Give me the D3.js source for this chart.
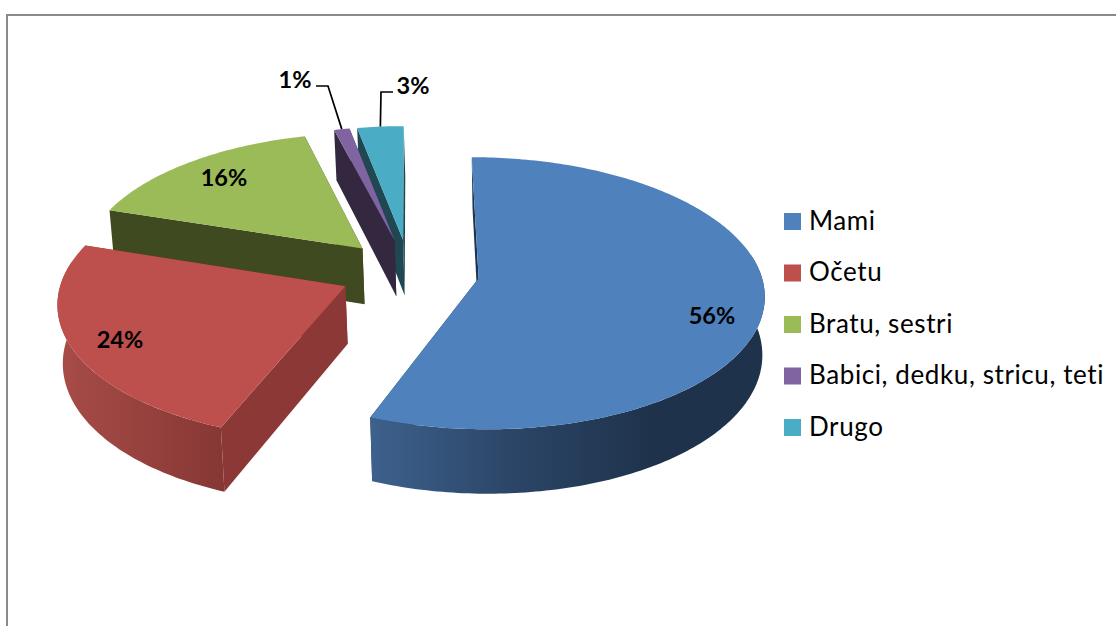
<!DOCTYPE html>
<html>
<head>
<meta charset="utf-8">
<script src="https://cdn.jsdelivr.net/npm/d3@7"></script>
<style>
	body { margin: 0; background: #fff; }
	text { font-family: Lato, "Open Sans", sans-serif; fill: #000; }
</style>
</head>
<body>
<div id="chart-area"></div>
<script>

// Chart data
let categories = ["Mami", "Očetu", "Bratu, sestri", "Babici, dedku, stricu, teti", "Drugo"];
let percents = [56, 24, 16, 1, 3];

// Colours of the slices
let topColors = ["#4f81bd", "#bd4f4c", "#9bbb59", "#8064a2", "#4aacc5"];
let wallColors = ["#1f3350", "#8c3836", "#404a20", "#342840", "#1f4852"];
let rimStops = [
	[[0, "#3d618d"], [0.35, "#2c4668"], [0.72, "#1e324b"], [1, "#1e324b"]],
	[[0, "#a84c48"], [1, "#863734"]],
	[[0, "#404a20"], [1, "#404a20"]],
	[[0, "#342840"], [1, "#342840"]],
	[[0, "#1f4852"], [1, "#1f4852"]]
];

// Page and pie set-up (the pie is a real perspective projection of an exploded disc)
let width = 1116;
let height = 626;

let cam = {x: 409.5, y: 272};
let radius = 282;      // disc radius in px
let tilt = 133;        // vertical squash of the disc
let persp = 0.11;      // perspective strength
let explode = 70;      // how far every slice is pulled out
let depth = 57;        // thickness of the disc
let bottomScale = 0.989;
let bottomShift = 1.5;

let svg = d3.select("#chart-area").append("svg")
	.attr("width", width)
	.attr("height", height)
	.style("display", "block");

let defs = svg.append("defs");

// Frame, only the top and left side are in the picture
svg.append("path")
	.attr("d", "M7,626V15H1116")
	.attr("fill", "none")
	.attr("stroke", "#8a8a8a")
	.attr("stroke-width", 2);

let pie = d3.pie().sort(null).value(d => d);
let slices = pie(percents);

// Project a point of slice d. angle is clockwise from the back of the disc, r is 0..1
function project(d, angle, r, lower) {
	let mid = (d.startAngle + d.endAngle) / 2;
	let X = explode * Math.sin(mid) + radius * r * Math.sin(angle);
	let Z = -explode * Math.cos(mid) / radius - r * Math.cos(angle);
	let w = 1 / (1 - persp * Z);
	let px = X * w;
	let py = tilt * Z * w;
	if (lower) {
		return [cam.x + px * bottomScale + bottomShift, cam.y + py + depth * w];
	}
	return [cam.x + px, cam.y + py];
}

let line = d3.line();

function arcPoints(d, a0, a1, lower) {
	let n = Math.max(2, Math.ceil((a1 - a0) * 60));
	return d3.range(n + 1).map(i => project(d, a0 + (a1 - a0) * i / n, 1, lower));
}

function wall(d, angle) {
	return line([
		project(d, angle, 1, false),
		project(d, angle, 0, false),
		project(d, angle, 0, true),
		project(d, angle, 1, true)
	]) + "Z";
}

// Only the part of the rim facing the viewer is drawn
let rimFrom = 80 * Math.PI / 180;
let rimTo = 280 * Math.PI / 180;

// Back to front
let drawOrder = [4, 3, 2, 1, 0];

drawOrder.forEach(i => {
	let d = slices[i];
	let g = svg.append("g").attr("class", "slice");

	g.append("path")
		.attr("d", wall(d, d.endAngle))
		.attr("fill", wallColors[i]);
	g.append("path")
		.attr("d", wall(d, d.startAngle))
		.attr("fill", wallColors[i]);

	let a0 = Math.max(d.startAngle, rimFrom);
	let a1 = Math.min(d.endAngle, rimTo);
	if (a1 > a0) {
		let grad = defs.append("linearGradient").attr("id", "rim" + i);
		grad.selectAll("stop")
			.data(rimStops[i])
			.enter()
			.append("stop")
			.attr("offset", s => s[0])
			.attr("stop-color", s => s[1]);

		let rim = arcPoints(d, a0, a1, false).concat(arcPoints(d, a0, a1, true).reverse());
		g.append("path")
			.attr("d", line(rim) + "Z")
			.attr("fill", "url(#rim" + i + ")");
	}

	let topFace = [project(d, 0, 0, false)].concat(arcPoints(d, d.startAngle, d.endAngle, false));
	g.append("path")
		.attr("d", line(topFace) + "Z")
		.attr("fill", topColors[i]);
});

// Percent labels
let labelPos = [[712, 316], [120, 340], [224, 178], [295, 80], [413, 86]];

svg.selectAll(".pct")
	.data(slices)
	.enter()
	.append("text")
	.attr("class", "pct")
	.attr("x", (d, i) => labelPos[i][0])
	.attr("y", (d, i) => labelPos[i][1])
	.attr("dy", "0.35em")
	.attr("text-anchor", "middle")
	.attr("font-weight", 700)
	.attr("font-size", 23.5)
	.text(d => d.value + "%");

// Leader lines of the two small slices
let leaderElbows = {3: [[316, 86], [328, 86]], 4: [[393, 92], [381, 92]]};

Object.keys(leaderElbows).forEach(i => {
	let d = slices[i];
	let end = project(d, (d.startAngle + d.endAngle) / 2, 1, false);
	svg.append("path")
		.attr("d", line(leaderElbows[i].concat([end])))
		.attr("fill", "none")
		.attr("stroke", "#000")
		.attr("stroke-width", 1.7);
});

// Legend
let legend = svg.selectAll(".legend")
	.data(categories)
	.enter()
	.append("g")
	.attr("class", "legend")
	.attr("transform", (d, i) => "translate(784," + (213 + i * 51.5) + ")");

legend.append("rect")
	.attr("width", 17)
	.attr("height", 17)
	.attr("fill", (d, i) => topColors[i]);

legend.append("text")
	.attr("x", 25)
	.attr("y", 7.5)
	.attr("dy", "0.36em")
	.attr("font-size", 26)
	.attr("letter-spacing", 0.6)
	.text(d => d);

</script>
</body>
</html>
